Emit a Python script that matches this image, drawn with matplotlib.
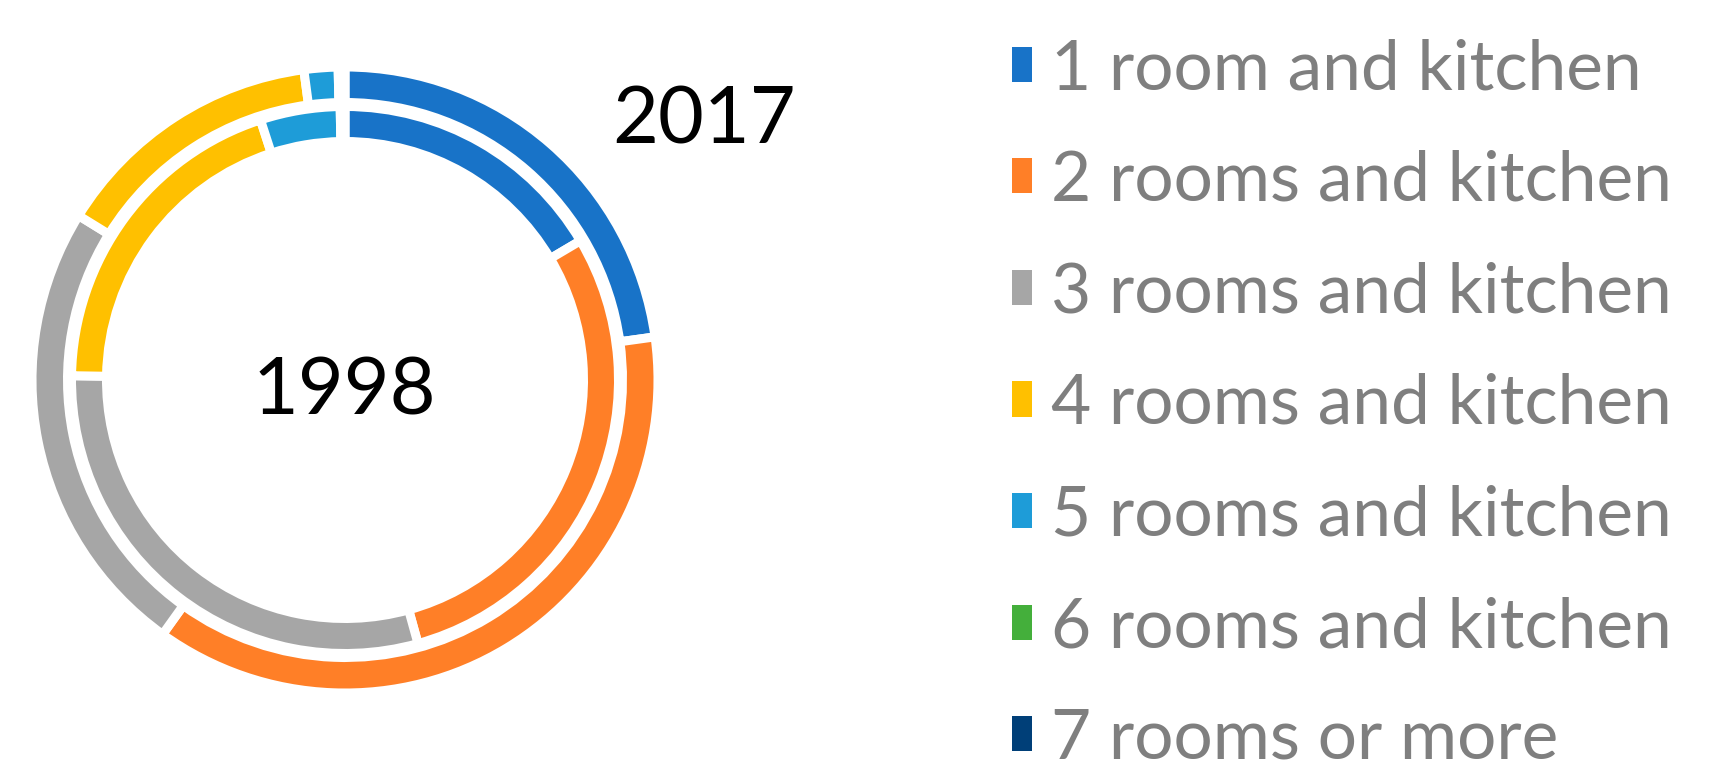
import matplotlib
matplotlib.use("Agg")
import matplotlib.pyplot as plt
from matplotlib.patches import Patch

# Share of dwellings by size (%)
categories = [
    "1 room and kitchen",
    "2 rooms and kitchen",
    "3 rooms and kitchen",
    "4 rooms and kitchen",
    "5 rooms and kitchen",
    "6 rooms and kitchen",
    "7 rooms or more",
]
share_2017 = [22.8, 37.1, 23.9, 14.1, 1.75, 0.2, 0.15]
share_1998 = [16.5, 29.2, 29.55, 19.75, 4.72, 0.15, 0.13]
colors = ["#1873C8", "#FF7F27", "#A6A6A6", "#FFC000", "#1E9CD8", "#44AF3B", "#003F78"]

W, H = 1710, 783
plt.rcParams["font.family"] = ["Lato", "DejaVu Sans"]

fig = plt.figure(figsize=(W / 100, H / 100), dpi=100)

# pie axes: centre at (345, 380) px from top-left, radius 1 == 308.5 px
R = 308.5
cx, cy = 345, H - 380
lim = 1.1
S = R * lim
ax = fig.add_axes([(cx - S) / W, (cy - S) / H, 2 * S / W, 2 * S / H])

gap = 9  # px of white between slices
lw = gap * 72 / 100

outer_r = (R + gap / 2) / R
outer_w = (R - 282 + gap) / R
inner_r = (269 + gap / 2) / R
inner_w = (269 - 243 + gap) / R

ax.pie(share_2017, colors=colors, radius=outer_r, startangle=90, counterclock=False,
       wedgeprops=dict(width=outer_w, edgecolor="white", linewidth=lw))
ax.pie(share_1998, colors=colors, radius=inner_r, startangle=90, counterclock=False,
       wedgeprops=dict(width=inner_w, edgecolor="white", linewidth=lw))
ax.set_xlim(-lim, lim)
ax.set_ylim(-lim, lim)
ax.set_aspect("equal")
ax.axis("off")

# ring labels
fig.text(704 / W, 1 - 144 / H, "2017", ha="center", va="baseline", fontsize=57, color="black")
fig.text(344 / W, 1 - 415 / H, "1998", ha="center", va="baseline", fontsize=57, color="black")

handles = [Patch(facecolor=c, edgecolor="none") for c in colors]
fs = 50
em = fs * 100 / 72
fig.legend(handles, categories, loc="upper left", bbox_to_anchor=(1012 / W, 1 - 38 / H),
           frameon=False, fontsize=fs, labelcolor="#7F7F7F",
           handlelength=20 / em, handleheight=28 / em, handletextpad=0.28,
           labelspacing=0.70, borderpad=0, borderaxespad=0)

fig.savefig("out.png", dpi=100, facecolor="white")
